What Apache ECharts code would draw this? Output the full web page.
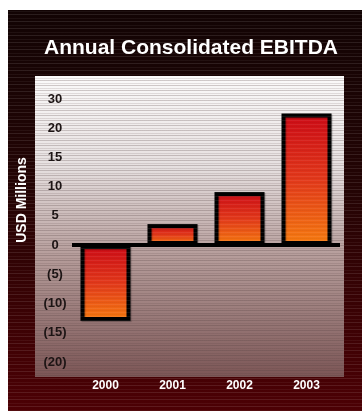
<!DOCTYPE html>
<html>
<head>
<meta charset="utf-8">
<script src="https://cdn.jsdelivr.net/npm/echarts@6/dist/echarts.min.js"></script>
<style>
  html, body { margin: 0; padding: 0; background: #ffffff; }
  #chart { width: 362px; height: 412px; }
</style>
</head>
<body>
<div id="chart"></div>
<script>
// Annual EBITDA, USD millions
const years = ['2000', '2001', '2002', '2003'];
const ebitda = [-13.0, 3.6, 9.1, 22.5];
// Tick labels from -20 up to the top tick, as printed on the axis
const yTickLabels = ['(20)', '(15)', '(10)', '(5)', '0', '5', '10', '15', '20', '30'];

const FONT = '"Liberation Sans", Arial, sans-serif';

// Repeating horizontal stripe texture
function stripePattern(height, rows) {
  const c = document.createElement('canvas');
  c.width = 8; c.height = height;
  const ctx = c.getContext('2d');
  rows.forEach(function (r) {
    ctx.fillStyle = r.color;
    ctx.fillRect(0, r.y, 8, 1);
  });
  return { image: c, repeat: 'repeat' };
}

const outerStripes = stripePattern(7, [
  { y: 0, color: 'rgba(255,255,255,0.10)' },
  { y: 4, color: 'rgba(255,255,255,0.05)' }
]);
const innerStripes = stripePattern(5, [
  { y: 0, color: 'rgba(80,60,60,0.26)' },
  { y: 3, color: 'rgba(80,60,60,0.14)' }
]);
const barStripes = stripePattern(4, [
  { y: 0, color: 'rgba(255,255,255,0.07)' },
  { y: 2, color: 'rgba(0,0,0,0.04)' }
]);

const chart = echarts.init(document.getElementById('chart'), null, { renderer: 'canvas' });

chart.setOption({
  animation: false,
  backgroundColor: '#ffffff',
  title: {
    text: 'Annual Consolidated EBITDA',
    left: 186,
    top: 33,
    textAlign: 'center',
    textStyle: {
      color: '#ffffff',
      fontFamily: FONT,
      fontWeight: 'bold',
      fontSize: 21
    }
  },
  graphic: [
    {
      type: 'rect', z: -10, silent: true,
      shape: { x: 8, y: 10, width: 354, height: 401 },
      style: {
        fill: new echarts.graphic.LinearGradient(0, 0, 0, 1, [
          { offset: 0, color: '#120404' },
          { offset: 0.45, color: '#240404' },
          { offset: 1, color: '#4c0004' }
        ])
      }
    },
    {
      type: 'rect', z: -9, silent: true,
      shape: { x: 8, y: 10, width: 354, height: 401 },
      style: { fill: outerStripes }
    },
    {
      type: 'rect', z: -8, silent: true,
      shape: { x: 35, y: 76, width: 309, height: 301 },
      style: {
        fill: new echarts.graphic.LinearGradient(0, 0, 0, 1, [
          { offset: 0, color: '#fbfafa' },
          { offset: 0.3, color: '#e6e0e0' },
          { offset: 0.6, color: '#b59c9a' },
          { offset: 1, color: '#7c5656' }
        ])
      }
    },
    {
      type: 'rect', z: -7, silent: true,
      shape: { x: 35, y: 76, width: 309, height: 301 },
      style: { fill: innerStripes }
    },
    {
      type: 'text', z: 5, silent: true,
      x: 22, y: 200, rotation: Math.PI / 2,
      style: {
        text: 'USD Millions',
        fill: '#ffffff',
        font: 'bold 14px ' + FONT,
        align: 'center',
        verticalAlign: 'middle'
      }
    }
  ],
  grid: { left: 72, right: 22, top: 99, bottom: 50, containLabel: false },
  xAxis: {
    type: 'category',
    data: years,
    axisLine: { show: false, onZero: false },
    axisTick: { show: false },
    axisLabel: {
      color: '#ffffff',
      fontFamily: FONT,
      fontWeight: 'bold',
      fontSize: 12,
      margin: 18
    }
  },
  yAxis: {
    type: 'value',
    min: -20,
    max: 25,
    interval: 5,
    axisLine: { show: false },
    axisTick: { show: false },
    splitLine: { show: false },
    axisLabel: {
      color: '#1c1414',
      fontFamily: FONT,
      fontWeight: 'bold',
      fontSize: 13,
      align: 'center',
      margin: 17,
      formatter: function (v) {
        return yTickLabels[Math.round((v + 20) / 5)];
      }
    }
  },
  series: [{
    type: 'bar',
    data: ebitda,
    barWidth: 50,
    itemStyle: {
      color: new echarts.graphic.LinearGradient(0, 0, 0, 1, [
        { offset: 0, color: '#cc0a16' },
        { offset: 0.5, color: '#e2381a' },
        { offset: 1, color: '#f67c10' }
      ]),
      borderColor: '#000000',
      borderWidth: 4,
      shadowColor: 'rgba(0,0,0,0.25)',
      shadowOffsetX: 1,
      shadowOffsetY: 1,
      shadowBlur: 1
    },
    markLine: {
      silent: true,
      symbol: 'none',
      label: { show: false },
      lineStyle: { color: '#000000', width: 4, type: 'solid' },
      data: [{ yAxis: 0 }]
    }
  }, {
    // faint scan-line sheen over the bars
    type: 'bar',
    data: ebitda,
    barWidth: 50,
    barGap: '-100%',
    silent: true,
    itemStyle: { color: barStripes }
  }]
});
</script>
</body>
</html>
